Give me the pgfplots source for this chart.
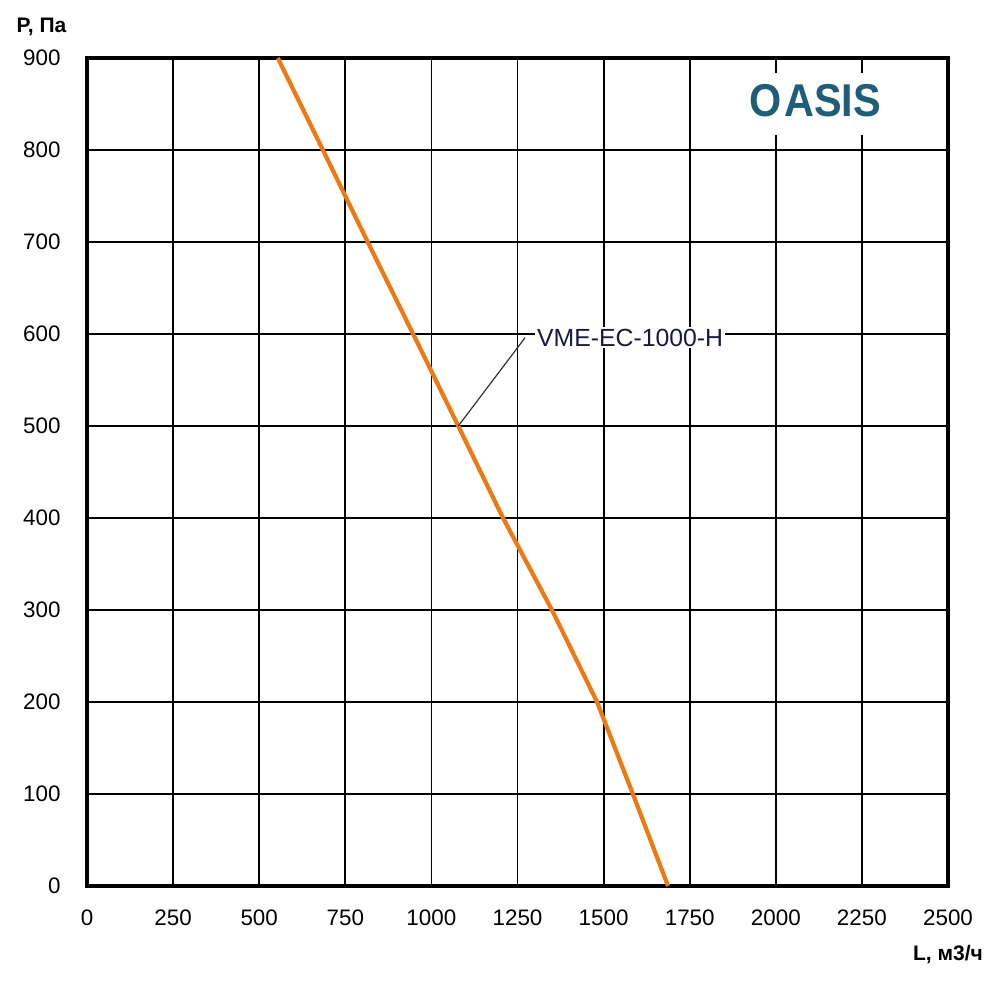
\documentclass[border=0pt]{standalone}
\usepackage{fontspec}
\setmainfont{Liberation Sans}
\usepackage{graphicx}
\usepackage{pgfplots}
\pgfplotsset{compat=1.18}
\definecolor{curve}{HTML}{F07810}
\definecolor{oasis}{HTML}{1F5E78}
\definecolor{lbl}{HTML}{1A1A40}
\begin{document}
\begin{tikzpicture}[x=1pt,y=1pt]
\useasboundingbox (0,0) rectangle (500,-490.5);
\begin{axis}[
  at={(43.5pt,-443pt)}, anchor=south west,
  scale only axis, width=430.5pt, height=414pt,
  xmin=0, xmax=2500, ymin=0, ymax=900,
  xtick={0,250,...,2500}, ytick={0,100,...,900},
  grid=major, major grid style={black, line width=0.9pt},
  axis line style={black, line width=2pt},
  major tick length=0pt,
  ticklabel style={font=\fontsize{11.2}{13}\selectfont, inner sep=0pt},
  xticklabel style={yshift=-11.5pt},
  yticklabel style={xshift=-13pt},
  /pgf/number format/assume math mode=true,
  /pgf/number format/1000 sep={},
  clip=false,
]
\addplot[curve, line width=2.1pt, line join=round] coordinates {
(554,900) (685,800) (815,700) (947,600) (1078,500) (1208,400)
(1350,300) (1481,200) (1585,100) (1687,0)};
\draw[black!80, line width=0.6pt] (axis cs:1078,500) -- (axis cs:1272,596);
\node[anchor=west, fill=white, inner sep=1pt, text=lbl,
  font=\fontsize{12.4}{14}\selectfont] at (axis cs:1300,596) {VME-EC-1000-H};
\fill[white] (axis cs:1890,884) rectangle (axis cs:2346,816);
\node[text=oasis, font=\bfseries\fontsize{23}{26}\selectfont]
  at (axis cs:2114,854) {\scalebox{0.9}[1]{O\hspace{0.08em}ASIS}};
\end{axis}
\node[anchor=base, font=\bfseries\fontsize{10.5}{12}\selectfont] at (20.75,-16) {P, Па};
\node[anchor=base, font=\bfseries\fontsize{10.5}{12}\selectfont] at (474,-480) {L, м3/ч};
\end{tikzpicture}
\end{document}
